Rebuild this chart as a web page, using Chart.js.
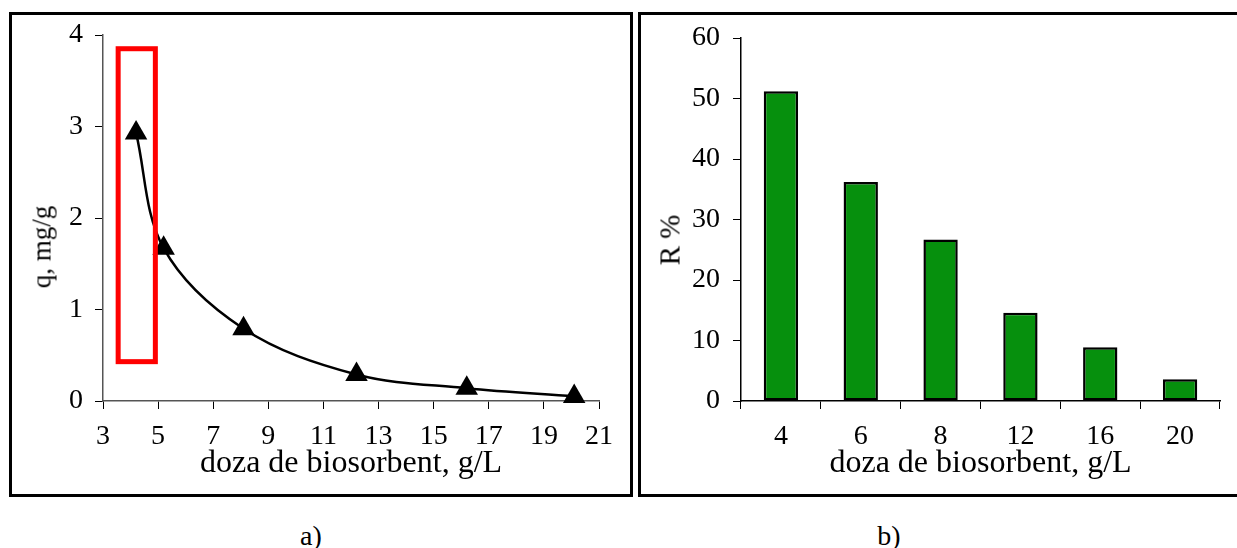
<!DOCTYPE html>
<html>
<head>
<meta charset="utf-8">
<script src="https://cdn.jsdelivr.net/npm/chart.js@4/dist/chart.umd.min.js"></script>
<style>
  body { margin: 0; background: #fff; width: 1237px; height: 548px; overflow: hidden; position: relative; font-family: "Liberation Serif", "Times New Roman", serif; }
  .frame { position: absolute; top: 12px; height: 485px; border: 3px solid #000; box-sizing: border-box; }
  #frameA { left: 9px; width: 624px; }
  #frameB { left: 638px; width: 602px; }
  .frame canvas { display: block; }
  .ytitle { position: absolute; font-size: 29px; white-space: nowrap; transform: translate(-50%, -50%) rotate(-90deg); color: #000; }
  .caption { position: absolute; top: 536px; font-size: 28px; transform: translate(-50%, -50%); color: #000; }
</style>
</head>
<body>
<div class="frame" id="frameA"><canvas id="chartA" width="618" height="479"></canvas></div>
<div class="frame" id="frameB"><canvas id="chartB" width="596" height="479"></canvas></div>
<div class="ytitle" style="left:42px; top:247px; font-size:27px;">q, mg/g</div>
<div class="ytitle" style="left:670px; top:240px;">R %</div>
<div class="caption" style="left:311px;">a)</div>
<div class="caption" style="left:889px;">b)</div>
<script>
// a) sorption capacity vs biosorbent dose
const doseLine = [4.2, 5.2, 8.1, 12.2, 16.2, 20.1];
const qValues = [2.93, 1.67, 0.79, 0.29, 0.14, 0.05];
// highlighted region (data units)
const boxX = [3.55, 4.9];
const boxY = [0.43, 3.85];

// b) removal % per dose
const doseCats = ['4', '6', '8', '12', '16', '20'];
const rValues = [51.2, 36.2, 26.7, 14.6, 8.9, 3.6];

const xTitle = 'doza de biosorbent, g/L';
const tickFont = { family: 'Liberation Serif', size: 28 };
const titleFont = { family: 'Liberation Serif', size: 32 };

Chart.defaults.color = '#000';
Chart.defaults.animation = false;

// pin axis sizes so the plot areas line up with the picture
function fixedWidth(w) {
  return function (s) { s.width = w; s.paddingTop = 0; s.paddingBottom = 0; };
}
function fixedHeight(h) { return function (s) { s.height = h; }; }

const redBox = {
  id: 'redBox',
  afterDatasetsDraw(chart) {
    const { ctx, scales } = chart;
    const x1 = scales.x.getPixelForValue(boxX[0]);
    const x2 = scales.x.getPixelForValue(boxX[1]);
    const y1 = scales.y.getPixelForValue(boxY[1]);
    const y2 = scales.y.getPixelForValue(boxY[0]);
    ctx.save();
    ctx.strokeStyle = '#ff0000';
    ctx.lineWidth = 5;
    ctx.strokeRect(x1, y1, x2 - x1, y2 - y1);
    ctx.restore();
  }
};

new Chart(document.getElementById('chartA'), {
  type: 'line',
  data: {
    datasets: [{
      data: doseLine.map((d, i) => ({ x: d, y: qValues[i] })),
      borderColor: '#000',
      borderWidth: 2.5,
      backgroundColor: '#000',
      pointStyle: 'triangle',
      pointRadius: 13,
      pointBorderWidth: 0,
      tension: 0.35,
      clip: false
    }]
  },
  options: {
    responsive: false,
    layout: { padding: { left: 0, top: 20, right: 31, bottom: 0 } },
    plugins: { legend: { display: false }, tooltip: { enabled: false } },
    scales: {
      x: {
        type: 'linear', min: 3, max: 21,
        ticks: { stepSize: 2, font: tickFont, padding: 11, maxRotation: 0 },
        grid: { drawOnChartArea: false, tickLength: 8, tickColor: '#000' },
        border: { color: '#555', width: 1.5 },
        title: { display: true, text: xTitle, font: titleFont, padding: { top: 0, bottom: 11 } },
        afterFit: fixedHeight(93)
      },
      y: {
        min: 0, max: 4,
        ticks: { stepSize: 1, font: tickFont, padding: 12 },
        grid: { drawOnChartArea: false, tickLength: 8, tickColor: '#000' },
        border: { color: '#555', width: 1.5 },
        afterFit: fixedWidth(91)
      }
    }
  },
  plugins: [redBox]
});

new Chart(document.getElementById('chartB'), {
  type: 'bar',
  data: {
    labels: doseCats,
    datasets: [{
      data: rValues,
      backgroundColor: '#06900d',
      borderColor: '#000',
      borderWidth: 2.5,
      borderSkipped: false,
      barPercentage: 0.43,
      categoryPercentage: 1
    }]
  },
  options: {
    responsive: false,
    layout: { padding: { left: 0, top: 23, right: 17, bottom: 0 } },
    plugins: { legend: { display: false }, tooltip: { enabled: false } },
    scales: {
      x: {
        ticks: { font: tickFont, padding: 11 },
        grid: { drawOnChartArea: false, tickLength: 8, tickColor: '#000' },
        border: { color: '#000', width: 1.5 },
        title: { display: true, text: xTitle, font: titleFont, padding: { top: 0, bottom: 11 } },
        afterFit: fixedHeight(93)
      },
      y: {
        min: 0, max: 60,
        ticks: { stepSize: 10, font: tickFont, padding: 13 },
        grid: { drawOnChartArea: false, tickLength: 8, tickColor: '#000' },
        border: { color: '#000', width: 1.5 },
        afterFit: fixedWidth(100)
      }
    }
  }
});
</script>
</body>
</html>
